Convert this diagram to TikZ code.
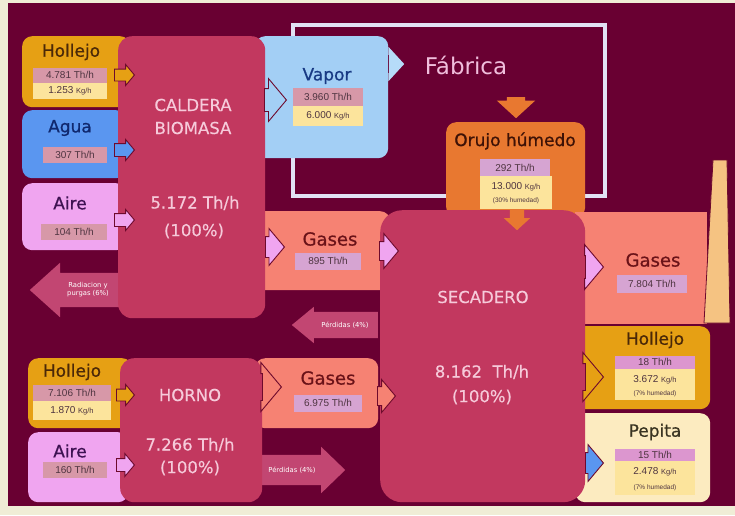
\documentclass[tikz,border=0pt]{standalone}
\usepackage{fontspec}
\setmainfont{DejaVu Sans}
\newfontfamily\bandfont{Liberation Sans}
\newfontfamily\headfont{DejaVu Sans}[FakeBold=0.7]
\newfontfamily\corefont{DejaVu Sans}[FakeBold=0.35]
\usetikzlibrary{shapes.arrows}

% palette
\definecolor{bgcream}{HTML}{F0EDD6}
\definecolor{wine}{HTML}{690032}
\definecolor{crim}{HTML}{C2385F}
\definecolor{salmon}{HTML}{F68273}
\definecolor{holor}{HTML}{E6A014}
\definecolor{orujoor}{HTML}{E87830}
\definecolor{aguablue}{HTML}{5A96F0}
\definecolor{vaporblue}{HTML}{A3CFF5}
\definecolor{glowblue}{HTML}{B6DCF9}
\definecolor{airepink}{HTML}{F0A5F0}
\definecolor{pepcream}{HTML}{FCEBC0}
\definecolor{bandrose}{HTML}{D798A8}
\definecolor{bandyel}{HTML}{FCE49C}
\definecolor{bandlav}{HTML}{D6A4D2}
\definecolor{bandviolet}{HTML}{DC96CF}
\definecolor{bandtxt}{HTML}{4E3440}
\definecolor{chim}{HTML}{F5C382}
\definecolor{losspink}{HTML}{C24672}
\definecolor{corepink}{HTML}{F6CADA}
\definecolor{fabtxt}{HTML}{F0BEDC}
\definecolor{fabframe}{HTML}{E2E2F4}
\definecolor{edge}{HTML}{6E0A2D}
\definecolor{holtxt}{HTML}{4A2808}
\definecolor{aguatxt}{HTML}{10286E}
\definecolor{airetxt}{HTML}{3E1252}
\definecolor{vaportxt}{HTML}{183A84}
\definecolor{orujotxt}{HTML}{3E1206}
\definecolor{gasestxt}{HTML}{6A1218}
\definecolor{peptxt}{HTML}{3A3422}

\begin{document}
\begin{tikzpicture}[x=1pt,y=-1pt,
  panel/.style={rectangle, anchor=north west, inner sep=0pt, rounded corners=10pt, draw=none},
  bandbox/.style={rectangle, inner sep=0pt, font=\bandfont\fontsize{10}{11}\selectfont, text=bandtxt},
  tinytxt/.style={inner sep=0pt, font=\bandfont\fontsize{6.5}{7}\selectfont, text=bandtxt},
  heading/.style={inner sep=0pt, font=\headfont\fontsize{17}{19}\selectfont},
  gasheading/.style={inner sep=0pt, font=\headfont\fontsize{18}{20}\selectfont, text=gasestxt},
  core/.style={inner sep=0pt, font=\corefont\fontsize{16.5}{19}\selectfont, text=corepink},
  flow/.style={single arrow, anchor=tail, inner xsep=0pt, draw=edge, line width=0.9pt, single arrow tip angle=100},
  glow/.style={single arrow, anchor=tail, inner xsep=0pt, draw=none, single arrow tip angle=95},
  loss/.style={single arrow, anchor=tail, inner xsep=0pt, draw=none, fill=losspink},
  losstxt/.style={inner sep=0pt, align=center, text=white, font=\fontsize{6.8}{8.2}\selectfont},
]
\useasboundingbox (0,0) rectangle (735,515);
\fill[bgcream] (0,0) rectangle (735,515);
\fill[wine] (8,3) rectangle (735,506);

% factory frame
\node[draw=fabframe, line width=3.5pt, rectangle, anchor=north west, inner sep=0pt,
      minimum width=312, minimum height=171] (fab) at (291,23) {};

% input panels on the left
\node[panel, fill=holor, minimum width=108, minimum height=71] (holA) at (22,36) {};
\node[panel, fill=aguablue, minimum width=104, minimum height=68] (agua) at (22,110) {};
\node[panel, fill=airepink, minimum width=104, minimum height=67] (aireA) at (22,183) {};
\node[panel, fill=holor, minimum width=104, minimum height=70] (holB) at (28,358) {};
\node[panel, fill=airepink, minimum width=100, minimum height=70] (aireB) at (28,432) {};

% intermediate and output panels
\node[panel, fill=vaporblue, minimum width=133, minimum height=122] (vapor) at (255,36) {};
\node[panel, fill=salmon, minimum width=135, minimum height=79] (gasU) at (255,211) {};
\node[panel, fill=salmon, minimum width=123, minimum height=70] (gasL) at (255,358) {};
\node[panel, fill=orujoor, minimum width=139, minimum height=95] (orujo) at (446,122) {};
\node[panel, fill=salmon, rounded corners=0pt, minimum width=132, minimum height=112] (gasR) at (575,212) {};
\node[panel, fill=holor, minimum width=135, minimum height=83] (holR) at (575,326) {};
\node[panel, fill=pepcream, minimum width=135, minimum height=89] (pep) at (575,413) {};

% chimney
\draw[fill=chim, draw=edge, line width=0.8pt] (713,160) -- (727,160) -- (730,323) -- (704,323) -- cycle;

% loss arrows
\node[loss, rotate=180, minimum height=90, inner ysep=17, single arrow head extend=10, single arrow tip angle=84] (rad) at (120,290) {};
\node[loss, rotate=180, minimum height=86, inner ysep=13, single arrow head extend=5, single arrow tip angle=79] (perdU) at (378,325) {};
\node[loss, minimum height=83, inner ysep=15, single arrow head extend=8, single arrow tip angle=88] (perdL) at (262,470) {};

% main units
\node[panel, fill=crim, rounded corners=14pt, minimum width=147, minimum height=282] (caldera) at (118,36) {};
\node[panel, fill=crim, rounded corners=14pt, minimum width=142, minimum height=144] (horno) at (120,358) {};
\node[panel, fill=crim, rounded corners=22pt, minimum width=205, minimum height=292] (secadero) at (380,210) {};

% flow arrows
\node[flow, fill=holor, minimum height=20, inner ysep=5.5, single arrow head extend=4.5] (fHolA) at (114,75) {};
\node[flow, fill=aguablue, minimum height=20, inner ysep=6, single arrow head extend=4] (fAgua) at (114,150) {};
\node[flow, fill=airepink, minimum height=20, inner ysep=6, single arrow head extend=4] (fAireA) at (114,220) {};
\node[flow, fill=holor, minimum height=18, inner ysep=5.5, single arrow head extend=4.5] (fHolB) at (116,395) {};
\node[flow, fill=airepink, minimum height=18, inner ysep=6, single arrow head extend=5] (fAireB) at (116,465) {};
\node[flow, fill=vaporblue, minimum height=22, inner ysep=11, single arrow head extend=10] (fVapor) at (264,100) {};
\node[glow, fill=glowblue, minimum height=15, inner ysep=9, single arrow head extend=8] (fFab) at (389,64) {};
\node[glow, fill=orujoor, rotate=-90, minimum height=21, inner ysep=9, single arrow head extend=10] (fOrujo) at (516,97) {};
\node[glow, fill=orujoor, rotate=-90, minimum height=22, inner ysep=7, single arrow head extend=6] (fSec) at (517,208) {};
\node[flow, fill=airepink, minimum height=19, inner ysep=10, single arrow head extend=8] (fGasU) at (265,247) {};
\node[flow, fill=airepink, minimum height=19, inner ysep=9, single arrow head extend=8] (fGasUsec) at (379,251) {};
\node[flow, fill=airepink, minimum height=18, inner ysep=11, single arrow head extend=11] (fGasR) at (585,267) {};
\node[flow, fill=holor, minimum height=18, inner ysep=13, single arrow head extend=11] (fHolR) at (585,377) {};
\node[flow, fill=aguablue, minimum height=18, inner ysep=10, single arrow head extend=8] (fPep) at (585,463) {};
\node[flow, fill=salmon, minimum height=19, inner ysep=13, single arrow head extend=11] (fGasL) at (262,387) {};
\node[flow, fill=salmon, minimum height=18, inner ysep=9, single arrow head extend=7] (fGasLsec) at (377,396) {};

% loss labels
\node[losstxt] (tRad) at (88,290) {Radiacion y\\purgas (6\%)};
\node[losstxt] (tPerdU) at (345,325) {Pérdidas (4\%)};
\node[losstxt] (tPerdL) at (292,470) {Pérdidas (4\%)};

% caldera inputs
\node[heading, text=holtxt] (tHolA) at (71,52) {Hollejo};
\node[bandbox, fill=bandrose, minimum width=74, minimum height=15] (vHolA) at (70,75) {4.781 Th/h};
\node[bandbox, fill=bandyel, minimum width=74, minimum height=16] (mHolA) at (70,90.5) {1.253 {\fontsize{7.5}{8}\selectfont Kg/h}};
\node[heading, text=aguatxt] (tAgua) at (70,128) {Agua};
\node[bandbox, fill=bandrose, minimum width=64, minimum height=16] (vAgua) at (75,155) {307 Th/h};
\node[heading, text=airetxt] (tAireA) at (70,203) {Aire};
\node[bandbox, fill=bandrose, minimum width=66, minimum height=16] (vAireA) at (74,232) {104 Th/h};

% caldera
\node[core] (tCal1) at (193,105) {CALDERA};
\node[core] (tCal2) at (193,128) {BIOMASA};
\node[core] (tCal3) at (195,203) {5.172 Th/h};
\node[core] (tCal4) at (194,231) {(100\%)};

% vapor and factory
\node[heading, text=vaportxt] (tVapor) at (327,76) {Vapor};
\node[bandbox, fill=bandrose, minimum width=70, minimum height=18] (vVapor) at (328,97) {3.960 Th/h};
\node[bandbox, fill=bandyel, minimum width=70, minimum height=20] (mVapor) at (328,116) {6.000 {\fontsize{7.5}{8}\selectfont Kg/h}};
\node[inner sep=0pt, text=fabtxt, font=\fontsize{23}{26}\selectfont] (tFab) at (466,65) {Fábrica};

% orujo
\node[heading, text=orujotxt] (tOrujo) at (515,141) {Orujo húmedo};
\node[bandbox, fill=bandlav, minimum width=70, minimum height=17] (vOrujo) at (515,167.5) {292 Th/h};
\node[bandbox, fill=bandyel, minimum width=72, minimum height=33] (mOrujo) at (516,192.5) {};
\node[bandbox] (mOrujoT) at (516,187) {13.000 {\fontsize{7.5}{8}\selectfont Kg/h}};
\node[tinytxt] (hOrujo) at (516,201) {(30\% humedad)};

% gases
\node[gasheading] (tGasU) at (330,239) {Gases};
\node[bandbox, fill=bandlav, minimum width=66, minimum height=17] (vGasU) at (328,261) {895 Th/h};
\node[gasheading] (tGasL) at (328,378) {Gases};
\node[bandbox, fill=bandlav, minimum width=68, minimum height=17] (vGasL) at (328,403) {6.975 Th/h};
\node[gasheading] (tGasR) at (653,260) {Gases};
\node[bandbox, fill=bandlav, minimum width=70, minimum height=18] (vGasR) at (652,284) {7.804 Th/h};

% secadero
\node[core] (tSec1) at (483,297) {SECADERO};
\node[core] (tSec2) at (482,372) {8.162\ \ Th/h};
\node[core] (tSec3) at (482,397) {(100\%)};

% secadero outputs
\node[heading, text=holtxt] (tHolR) at (655,340) {Hollejo};
\node[bandbox, fill=bandviolet, minimum width=80, minimum height=13] (vHolR) at (655,362) {18 Th/h};
\node[bandbox, fill=bandyel, minimum width=80, minimum height=31] (mHolR) at (655,384) {};
\node[bandbox] (mHolRT) at (655,380) {3.672 {\fontsize{7.5}{8}\selectfont Kg/h}};
\node[tinytxt] (hHolR) at (655,394) {(7\% humedad)};
\node[heading, text=peptxt] (tPep) at (655,432) {Pepita};
\node[bandbox, fill=bandviolet, minimum width=80, minimum height=13] (vPep) at (655,455) {15 Th/h};
\node[bandbox, fill=bandyel, minimum width=80, minimum height=34] (mPep) at (655,478) {};
\node[bandbox] (mPepT) at (655,472) {2.478 {\fontsize{7.5}{8}\selectfont Kg/h}};
\node[tinytxt] (hPep) at (655,488) {(7\% humedad)};

% horno inputs
\node[heading, text=holtxt] (tHolB) at (72,372) {Hollejo};
\node[bandbox, fill=bandrose, minimum width=78, minimum height=16] (vHolB) at (72,393) {7.106 Th/h};
\node[bandbox, fill=bandyel, minimum width=78, minimum height=19] (mHolB) at (72,410.5) {1.870 {\fontsize{7.5}{8}\selectfont Kg/h}};
\node[heading, text=airetxt] (tAireB) at (70,451) {Aire};
\node[bandbox, fill=bandrose, minimum width=64, minimum height=16] (vAireB) at (75,470) {160 Th/h};

% horno
\node[core] (tHor1) at (190,395) {HORNO};
\node[core] (tHor2) at (190,445) {7.266 Th/h};
\node[core] (tHor3) at (190,468) {(100\%)};
\end{tikzpicture}
\end{document}
